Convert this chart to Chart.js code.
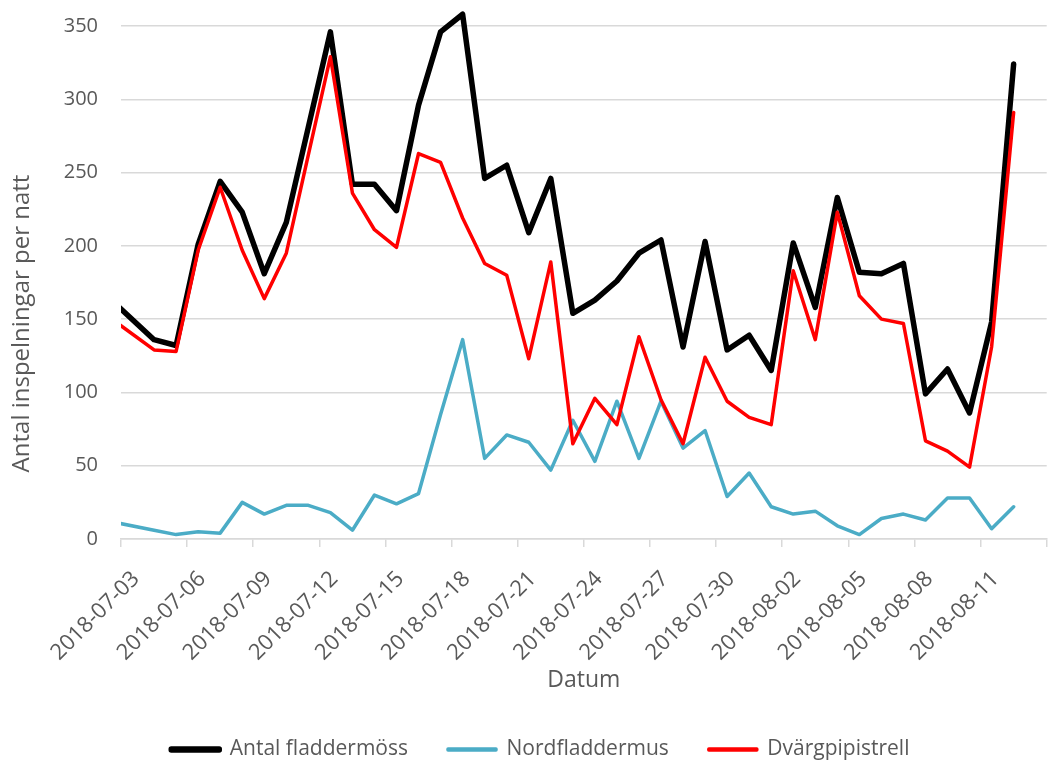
<!DOCTYPE html>
<html>
<head>
<meta charset="utf-8">
<script src="https://cdn.jsdelivr.net/npm/chart.js@4"></script>
<style>
  html, body { margin: 0; padding: 0; background: #ffffff; }
  #wrap { width: 1049px; height: 765px; position: relative; }
</style>
</head>
<body>
<div id="wrap"><canvas id="c" width="1049" height="765"></canvas></div>
<script>
// Dates of the nightly recordings (first point lies just left of the axis start and is clipped)
const dates = [
  '2018-07-02','2018-07-04','2018-07-05','2018-07-06','2018-07-07','2018-07-08','2018-07-09','2018-07-10',
  '2018-07-11','2018-07-12','2018-07-13','2018-07-14','2018-07-15','2018-07-16','2018-07-17','2018-07-18',
  '2018-07-19','2018-07-20','2018-07-21','2018-07-22','2018-07-23','2018-07-24','2018-07-25','2018-07-26',
  '2018-07-27','2018-07-28','2018-07-29','2018-07-30','2018-07-31','2018-08-01','2018-08-02','2018-08-03',
  '2018-08-04','2018-08-05','2018-08-06','2018-08-07','2018-08-08','2018-08-09','2018-08-10','2018-08-11',
  '2018-08-12'
];
const antalFladdermoss = [164,136,132,201,244,223,181,216,281,346,242,242,224,296,346,358,246,255,209,246,
  154,163,176,195,204,131,203,129,139,115,202,158,233,182,181,188,99,116,86,148,324];
const nordfladdermus = [12,6,3,5,4,25,17,23,23,18,6,30,24,31,85,136,55,71,66,47,
  81,53,94,55,94,62,74,29,45,22,17,19,9,3,14,17,13,28,28,7,22];
const dvargpipistrell = [151,129,128,197,240,197,164,195,262,329,236,211,199,263,257,219,188,180,123,189,
  65,96,78,138,95,65,124,94,83,78,183,136,223,166,150,147,67,60,49,131,291];
const xTickLabels = ['2018-07-03','2018-07-06','2018-07-09','2018-07-12','2018-07-15','2018-07-18',
  '2018-07-21','2018-07-24','2018-07-27','2018-07-30','2018-08-02','2018-08-05','2018-08-08','2018-08-11'];
const seriesNames = ['Antal fladdermöss','Nordfladdermus','Dvärgpipistrell'];
const yAxisTitle = 'Antal inspelningar per natt';
const xAxisTitle = 'Datum';

const DAY = 86400000;
const base = Date.parse('2018-07-03');
const xOf = d => (Date.parse(d) - base) / DAY + 0.5;
const toPts = arr => arr.map((v, i) => ({ x: xOf(dates[i]), y: v }));

const FONT = "'Open Sans', 'DejaVu Sans', sans-serif";
const GRAY = '#595959';
const GRID = '#d9d9d9';

// Layout nudges: legend offset, and y-axis title centred on the outer plot area (as in Excel)
const layoutNudge = {
  id: 'layoutNudge',
  afterLayout(chart) {
    const lg = chart.legend;
    if (lg) { lg.left += 17; lg.right += 17; lg.top += 5; lg.bottom += 5; }
    const sc = chart.scales.y;
    if (sc && !sc._titleWrapped) {
      const orig = sc.drawTitle.bind(sc);
      sc.drawTitle = function () {
        const t = this.top, b = this.bottom, dy = 41;
        this.top = t + dy; this.bottom = b + dy;
        orig();
        this.top = t; this.bottom = b;
      };
      sc._titleWrapped = true;
    }
  }
};

const mk = (label, data, color, width, order) => ({
  label, data: toPts(data), borderColor: color, backgroundColor: color,
  borderWidth: width, pointRadius: 0, pointHoverRadius: 0, tension: 0,
  borderJoinStyle: 'round', borderCapStyle: 'round', fill: false, order,
  clip: { left: 0, top: false, right: 0, bottom: 0 }
});

new Chart(document.getElementById('c'), {
  type: 'line',
  data: {
    datasets: [
      mk(seriesNames[0], antalFladdermoss, '#000000', 5.5, 3),
      mk(seriesNames[1], nordfladdermus, '#4BACC6', 3.5, 2),
      mk(seriesNames[2], dvargpipistrell, '#FF0000', 3.5, 1)
    ]
  },
  options: {
    responsive: false,
    animation: false,
    devicePixelRatio: 1,
    layout: { padding: { top: 26, right: 2.3, bottom: 0, left: 0 } },
    plugins: {
      tooltip: { enabled: false },
      legend: {
        position: 'bottom',
        labels: {
          font: { family: FONT, size: 21 },
          color: GRAY,
          boxWidth: 48,
          boxHeight: 1,
          padding: 40,
          sort: (a, b) => a.datasetIndex - b.datasetIndex
        }
      }
    },
    scales: {
      x: {
        type: 'linear',
        min: 0,
        max: 42,
        afterFit: s => { s.height = 155; s.paddingRight = 0; s.paddingLeft = 0; },
        ticks: {
          stepSize: 3,
          autoSkip: false,
          minRotation: 45,
          maxRotation: 45,
          padding: 19,
          labelOffset: 15,
          font: { family: FONT, size: 22 },
          color: GRAY,
          callback: (v, i) => xTickLabels[i] || ''
        },
        grid: { drawOnChartArea: false, drawTicks: true, tickLength: 8, color: GRID, lineWidth: 1.5 },
        border: { display: true, color: GRID, width: 1.5 },
        title: {
          display: true, text: xAxisTitle, color: GRAY,
          font: { family: FONT, size: 23 }, padding: { top: 0, bottom: 0.2 }
        }
      },
      y: {
        min: 0,
        max: 350,
        afterFit: s => { s.width = 121; s.paddingTop = 0; s.paddingBottom = 0; },
        ticks: { stepSize: 50, padding: 23, font: { family: FONT, size: 20 }, color: GRAY },
        grid: { color: GRID, lineWidth: 1.5, drawTicks: false },
        border: { display: false },
        title: {
          display: true, text: yAxisTitle, color: GRAY,
          font: { family: FONT, size: 24 }, padding: { top: 7.6, bottom: 0 }
        }
      }
    }
  },
  plugins: [layoutNudge]
});
</script>
</body>
</html>
